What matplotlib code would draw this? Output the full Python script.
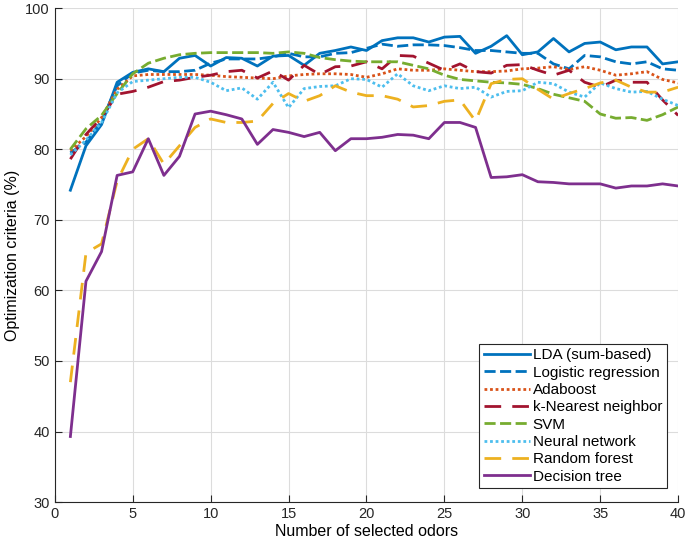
import matplotlib
matplotlib.use("Agg")
import matplotlib.pyplot as plt
import numpy as np

plt.rcParams['font.family'] = ['Liberation Sans', 'DejaVu Sans']

# number of selected odors (x axis)
n_odors = np.arange(1, 41)

# optimization criteria (%) per classifier
lda = [74.2, 80.5, 83.5, 89.5, 90.9, 91.4, 91.0, 92.9, 93.3, 91.8,
       93.0, 92.9, 91.8, 93.2, 93.3, 91.9, 93.6, 94.0, 94.5, 94.0,
       95.4, 95.8, 95.8, 95.2, 95.9, 96.0, 93.6, 94.6, 96.1, 93.4,
       93.8, 95.7, 93.8, 95.0, 95.2, 94.1, 94.5, 94.5, 92.1, 92.4]
logistic = [79.5, 81.0, 84.0, 89.0, 90.8, 91.2, 91.0, 91.0, 91.2, 92.2,
            92.8, 92.8, 92.8, 93.1, 93.6, 93.1, 93.1, 93.6, 93.7, 94.3,
            94.9, 94.6, 94.8, 94.8, 94.7, 94.4, 94.0, 94.0, 93.8, 93.6,
            93.6, 92.1, 91.4, 93.3, 93.1, 92.4, 92.1, 92.4, 91.4, 91.2]
adaboost = [79.8, 81.8, 84.5, 88.5, 90.4, 90.6, 90.6, 90.6, 90.6, 90.5,
            90.3, 90.2, 90.1, 90.0, 90.4, 90.6, 90.7, 90.7, 90.6, 90.2,
            90.7, 91.4, 91.2, 91.2, 91.4, 91.2, 91.0, 91.0, 91.1, 91.4,
            91.5, 91.7, 91.3, 91.7, 91.2, 90.5, 90.7, 91.0, 89.9, 89.4]
knn = [78.6, 82.1, 84.5, 87.8, 88.2, 88.8, 89.6, 89.8, 90.2, 90.5,
       91.0, 91.2, 90.1, 91.1, 89.8, 91.9, 90.6, 91.7, 91.8, 92.4,
       91.4, 93.3, 93.2, 92.2, 91.2, 92.1, 91.0, 90.8, 91.9, 92.0,
       91.2, 90.5, 91.2, 89.5, 88.8, 89.8, 89.5, 89.5, 87.0, 84.8]
svm = [80.0, 82.9, 84.8, 87.9, 90.7, 92.2, 92.9, 93.4, 93.6, 93.7,
       93.7, 93.7, 93.7, 93.6, 93.8, 93.6, 93.0, 92.7, 92.5, 92.4,
       92.4, 92.4, 91.9, 91.4, 90.5, 89.9, 89.7, 89.5, 89.4, 89.2,
       88.6, 87.8, 87.3, 86.8, 85.0, 84.4, 84.5, 84.1, 84.9, 86.0]
neural = [79.2, 81.3, 83.8, 88.0, 89.6, 89.8, 90.0, 90.2, 90.2, 89.5,
          88.3, 88.7, 87.1, 89.5, 85.9, 88.6, 88.9, 89.0, 90.0, 89.9,
          88.8, 90.7, 89.0, 88.3, 89.0, 88.6, 88.8, 87.4, 88.2, 88.3,
          89.5, 89.3, 88.1, 87.4, 89.4, 88.6, 88.1, 88.2, 87.1, 86.2]
random_forest = [47.0, 65.3, 66.6, 75.5, 80.0, 81.5, 77.9, 80.5, 83.1, 84.3,
                 83.8, 83.8, 84.0, 86.5, 87.9, 86.8, 87.6, 89.0, 88.1, 87.6,
                 87.6, 87.1, 86.0, 86.2, 86.8, 87.0, 84.0, 89.3, 89.9, 90.0,
                 88.5, 87.1, 87.9, 88.6, 89.4, 89.8, 88.8, 88.1, 88.1, 88.8]
decision_tree = [39.3, 61.3, 65.5, 76.3, 76.8, 81.5, 76.3, 79.0, 85.0, 85.4,
                 84.9, 84.3, 80.7, 82.8, 82.4, 81.8, 82.4, 79.8, 81.5, 81.5,
                 81.7, 82.1, 82.0, 81.5, 83.8, 83.8, 83.1, 76.0, 76.1, 76.4,
                 75.4, 75.3, 75.1, 75.1, 75.1, 74.5, 74.8, 74.8, 75.1, 74.8]

labels = ['LDA (sum-based)', 'Logistic regression', 'Adaboost', 'k-Nearest neighbor',
          'SVM', 'Neural network', 'Random forest', 'Decision tree']
series = [lda, logistic, adaboost, knn, svm, neural, random_forest, decision_tree]
colors = ['#0072BD', '#0072BD', '#D95319', '#A2142F',
          '#77AC30', '#4DBEEE', '#EDB120', '#7E2F8E']
styles = ['-', (0, (4, 1.6)), (0, (1, 1)), (0, (6, 4)),
          (0, (4, 1.6)), (0, (1, 1)), (0, (6, 4)), '-']

fig = plt.figure(figsize=(6.85, 5.44), dpi=100)
ax = fig.add_axes([0.080, 0.077, 0.910, 0.908])

for vals, lab, col, ls in zip(series, labels, colors, styles):
    ax.plot(n_odors, vals, color=col, linestyle=ls, linewidth=2.0, label=lab)

ax.set_xlim(0, 40)
ax.set_ylim(30, 100)
ax.set_xticks(np.arange(0, 41, 5))
ax.set_yticks(np.arange(30, 101, 10))
ax.grid(True, color='#dcdcdc', linewidth=0.8)
ax.set_axisbelow(True)
ax.spines['top'].set_visible(False)
ax.spines['right'].set_visible(False)
ax.spines['left'].set_color('#262626')
ax.spines['bottom'].set_color('#262626')
ax.tick_params(direction='in', length=5, labelsize=10.5, colors='#262626')

ax.set_xlabel('Number of selected odors', fontsize=11.5, labelpad=2)
ax.set_ylabel('Optimization criteria (%)', fontsize=11.5, labelpad=4)

leg = ax.legend(loc='lower right', bbox_to_anchor=(0.982, 0.028), fontsize=11,
                handlelength=3.0, handletextpad=0.2, labelspacing=0.22,
                borderpad=0.3, borderaxespad=0, fancybox=False, framealpha=1)
leg.get_frame().set_edgecolor('#262626')
leg.get_frame().set_linewidth(0.8)

fig.savefig('out.png', dpi=100)
